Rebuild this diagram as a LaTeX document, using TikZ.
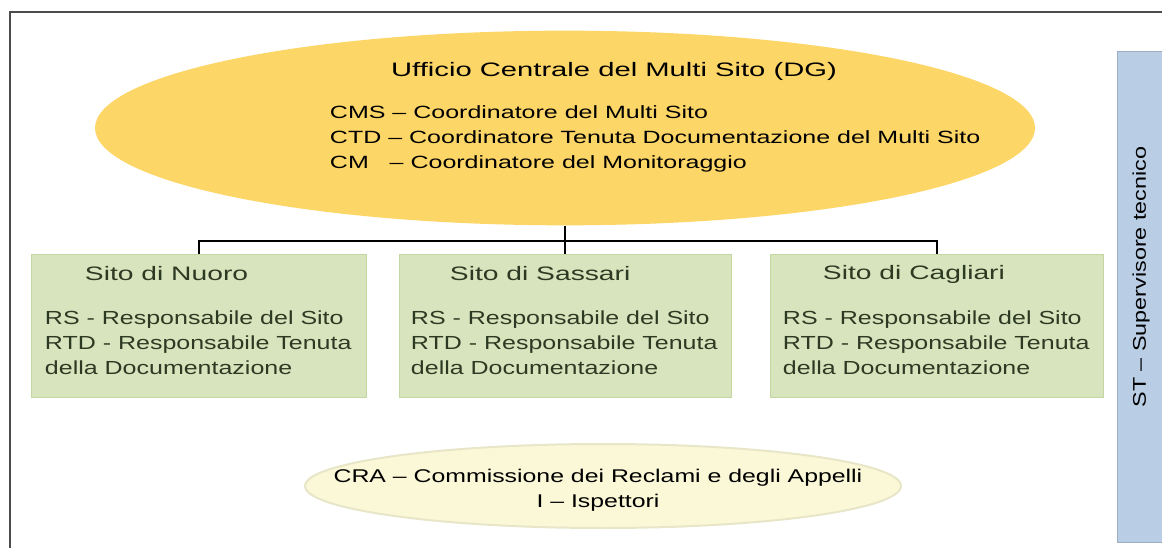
\documentclass[tikz,border=0pt]{standalone}
\usepackage{fontspec}
\setmainfont{Liberation Sans}
\usepackage{tikz}
\usetikzlibrary{positioning}
\usetikzlibrary{shapes.geometric}

\definecolor{officefill}{RGB}{253,214,104}
\definecolor{sitefill}{RGB}{215,228,189}
\definecolor{siteline}{RGB}{196,215,160}
\definecolor{sitetext}{RGB}{45,58,35}
\definecolor{stfill}{RGB}{185,205,229}
\definecolor{crafill}{RGB}{250,248,214}
\definecolor{craline}{RGB}{232,230,200}

\newcommand{\widefont}[2]{\fontsize{#1}{18.75}\selectfont\addfontfeatures{FakeStretch=#2}}

\begin{document}
\begin{tikzpicture}[x=0.75pt,y=-0.75pt,line width=0.8pt,align=left,
    office/.style={ellipse,fill=officefill,minimum width=705pt,minimum height=146pt,inner sep=0pt},
    site/.style={rectangle,fill=sitefill,draw=siteline,line width=0.5pt,minimum height=107pt,inner sep=0pt},
    sitetitle/.style={anchor=west,text=sitetext,font=\widefont{14.6}{1.45}},
    sitebody/.style={anchor=north west,text=sitetext,font=\widefont{14.2}{1.32}}]
  \useasboundingbox (0,0) rectangle (1162,548);
  % frame
  \draw[gray!60!black,line width=1pt] (1162,12) -- (10,12) -- (10,548);

  % central office
  \node (office) [office] at (565,128) {};
  \node (officetitle) [anchor=base,font=\widefont{14.6}{1.5}] at (614,77) {Ufficio Centrale del Multi Sito (DG)};
  \node (officeroles) [anchor=north west,font=\widefont{13.3}{1.41}] at (325,101)
    {CMS -- Coordinatore del Multi Sito\\
     CTD -- Coordinatore Tenuta Documentazione del Multi Sito\\
     CM \ \ -- Coordinatore del Monitoraggio};

  % sites
  \node (nuoro)    [site,minimum width=251pt] at (199,326) {};
  \node (sassari)  [site,minimum width=249pt] at (565,326) {};
  \node (cagliari) [site,minimum width=250pt] at (937,326) {};
  \node (nuorotitle)    [sitetitle] at (80,274)  {Sito di Nuoro};
  \node (sassarititle)  [sitetitle] at (445,274) {Sito di Sassari};
  \node (cagliarititle) [sitetitle] at (818,274) {Sito di Cagliari};
  \foreach \s/\x in {nuoro/40,sassari/406,cagliari/778}
    \node (\s roles) [sitebody] at (\x,306)
      {RS - Responsabile del Sito\\
       RTD - Responsabile Tenuta\\
       della Documentazione};

  % connectors
  \coordinate (bus) at (565,241);
  \draw (office.south) -- (bus) -| (nuoro.north);
  \draw (bus) -| (cagliari.north);
  \draw (bus) -- (sassari.north);

  % technical supervisor
  \node (st) [rectangle,fill=stfill,draw=stfill!85!black,line width=0.4pt,minimum width=34pt,minimum height=368pt,inner sep=0pt] at (1140,297) {};
  \node (sttext) [rotate=90,font=\widefont{13.8}{1.27}] at (1141,277) {ST -- Supervisore tecnico};

  % complaints committee
  \node (cra) [ellipse,fill=crafill,draw=craline,line width=1.5pt,minimum width=447pt,minimum height=63pt,inner sep=0pt] at (603,486) {};
  \node (cratext) [align=center,font=\widefont{13.8}{1.35}] at (598,490)
    {CRA -- Commissione dei Reclami e degli Appelli\\I -- Ispettori};
\end{tikzpicture}
\end{document}
